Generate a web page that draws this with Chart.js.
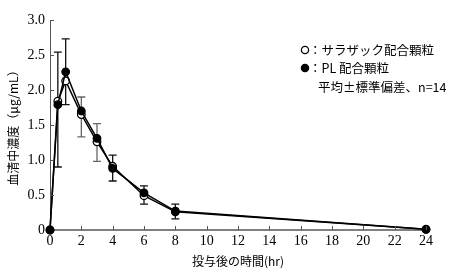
<!DOCTYPE html>
<html>
<head>
<meta charset="utf-8">
<script src="https://cdn.jsdelivr.net/npm/chart.js@4"></script>
<style>
  html, body { margin: 0; padding: 0; background: #fff; }
  #wrap { width: 450px; height: 275px; }
</style>
</head>
<body>
<div id="wrap"><canvas id="pkChart" width="450" height="275"></canvas></div>
<script>
// 投与後の時間(hr)
const hours = [0, 0.5, 1, 2, 3, 4, 6, 8, 24];
// サラザック配合顆粒（○）
const salazacMean = [0, 1.84, 2.13, 1.65, 1.26, 0.91, 0.49, 0.26, 0.01];
// PL 配合顆粒（●）
const plMean = [0, 1.79, 2.26, 1.70, 1.31, 0.88, 0.53, 0.27, 0.01];
// 標準偏差バー（上端・下端）
const errHours = [0.5, 1, 2, 3, 4, 6, 8];
const errHigh = [2.54, 2.73, 1.90, 1.52, 1.07, 0.63, 0.37];
const errLow = [0.90, 1.79, 1.33, 0.98, 0.70, 0.37, 0.16];
const errGray = [false, false, true, true, false, false, false];
const xTicks = [0, 2, 4, 6, 8, 10, 12, 14, 16, 18, 20, 22, 24];
const yTicks = [0, 0.5, 1.0, 1.5, 2.0, 2.5, 3.0];

const serif = '"Liberation Serif", "DejaVu Serif", serif';
const jp = '"Noto Sans CJK JP", "Liberation Serif", sans-serif';

const toPts = (ys) => hours.map((h, i) => ({ x: h, y: ys[i] }));

// error bars, drawn under the lines and markers
const errorBars = {
  id: 'errorBars',
  beforeDatasetsDraw(chart) {
    const { ctx, scales: { x, y } } = chart;
    ctx.save();
    ctx.lineWidth = 1.3;
    errHours.forEach((h, i) => {
      const px = x.getPixelForValue(h);
      const top = y.getPixelForValue(errHigh[i]);
      const bot = y.getPixelForValue(errLow[i]);
      ctx.strokeStyle = errGray[i] ? '#666' : '#111';
      ctx.beginPath();
      ctx.moveTo(px, top); ctx.lineTo(px, bot);
      ctx.moveTo(px - 4, top); ctx.lineTo(px + 4, top);
      ctx.moveTo(px - 4, bot); ctx.lineTo(px + 4, bot);
      ctx.stroke();
    });
    ctx.restore();
  }
};

// inward tick marks + legend text
const decor = {
  id: 'decor',
  afterDraw(chart) {
    const { ctx, scales: { x, y } } = chart;
    ctx.save();
    ctx.strokeStyle = '#555';
    ctx.lineWidth = 1;
    xTicks.forEach(t => {
      if (t === 0) return;
      const px = Math.round(x.getPixelForValue(t)) + 0.5;
      ctx.beginPath();
      ctx.moveTo(px, y.bottom); ctx.lineTo(px, y.bottom - 4);
      ctx.stroke();
    });
    yTicks.forEach(t => {
      if (t === 0) return;
      const py = Math.round(y.getPixelForValue(t)) + 0.5;
      ctx.beginPath();
      ctx.moveTo(x.left, py); ctx.lineTo(x.left + 4, py);
      ctx.stroke();
    });

    // legend
    ctx.lineWidth = 1.3;
    ctx.strokeStyle = '#000';
    ctx.fillStyle = '#fff';
    ctx.beginPath(); ctx.arc(305, 50, 3.6, 0, Math.PI * 2); ctx.fill(); ctx.stroke();
    ctx.fillStyle = '#000';
    ctx.beginPath(); ctx.arc(305, 68, 3.6, 0, Math.PI * 2); ctx.fill(); ctx.stroke();
    ctx.font = '12.5px ' + jp;
    ctx.textBaseline = 'middle';
    ctx.textAlign = 'left';
    ctx.fillText('：サラザック配合顆粒', 309, 50);
    ctx.fillText('：PL 配合顆粒', 309, 68);
    ctx.fillText('平均±標準偏差、n=14', 318, 87);
    ctx.restore();
  }
};

new Chart(document.getElementById('pkChart'), {
  type: 'line',
  data: {
    datasets: [
      {
        label: 'PL 配合顆粒',
        data: toPts(plMean),
        borderColor: '#000',
        borderWidth: 1.5,
        pointRadius: 3.8,
        pointBackgroundColor: '#000',
        pointBorderColor: '#000',
        pointBorderWidth: 1.2,
        tension: 0,
        clip: false
      },
      {
        label: 'サラザック配合顆粒',
        data: toPts(salazacMean),
        borderColor: '#000',
        borderWidth: 1.5,
        pointRadius: 3.8,
        pointBackgroundColor: '#fff',
        pointBorderColor: '#000',
        pointBorderWidth: 1.3,
        tension: 0,
        clip: false
      }
    ]
  },
  options: {
    responsive: false,
    animation: false,
    layout: { padding: { left: 6, right: 24, top: 20, bottom: 6 } },
    plugins: { legend: { display: false }, tooltip: { enabled: false } },
    scales: {
      x: {
        type: 'linear',
        min: 0, max: 24,
        afterBuildTicks: (s) => { s.ticks = xTicks.map(v => ({ value: v })); },
        afterFit: (s) => { s.height = 39; },
        grid: { display: false, drawTicks: false },
        border: { display: true, color: '#808080', width: 2 },
        ticks: { color: '#000', font: { family: serif, size: 14 }, padding: 3, maxRotation: 0 },
        title: {
          display: true, text: '投与後の時間(hr)', color: '#000',
          font: { family: jp, size: 12 }, padding: { top: 2, bottom: 0 }
        }
      },
      y: {
        min: 0, max: 3.0,
        afterBuildTicks: (s) => { s.ticks = yTicks.map(v => ({ value: v })); },
        afterFit: (s) => { s.width = 44; },
        grid: { display: false, drawTicks: false },
        border: { display: true, color: '#555', width: 1 },
        ticks: {
          color: '#000', font: { family: serif, size: 14 }, padding: 5,
          callback: (v) => v === 0 ? '0' : v.toFixed(1)
        },
        title: {
          display: true, text: '血清中濃度（μg/mL）', color: '#000',
          font: { family: jp, size: 12 }, padding: { top: 0, bottom: 2 }
        }
      }
    }
  },
  plugins: [errorBars, decor]
});
</script>
</body>
</html>
